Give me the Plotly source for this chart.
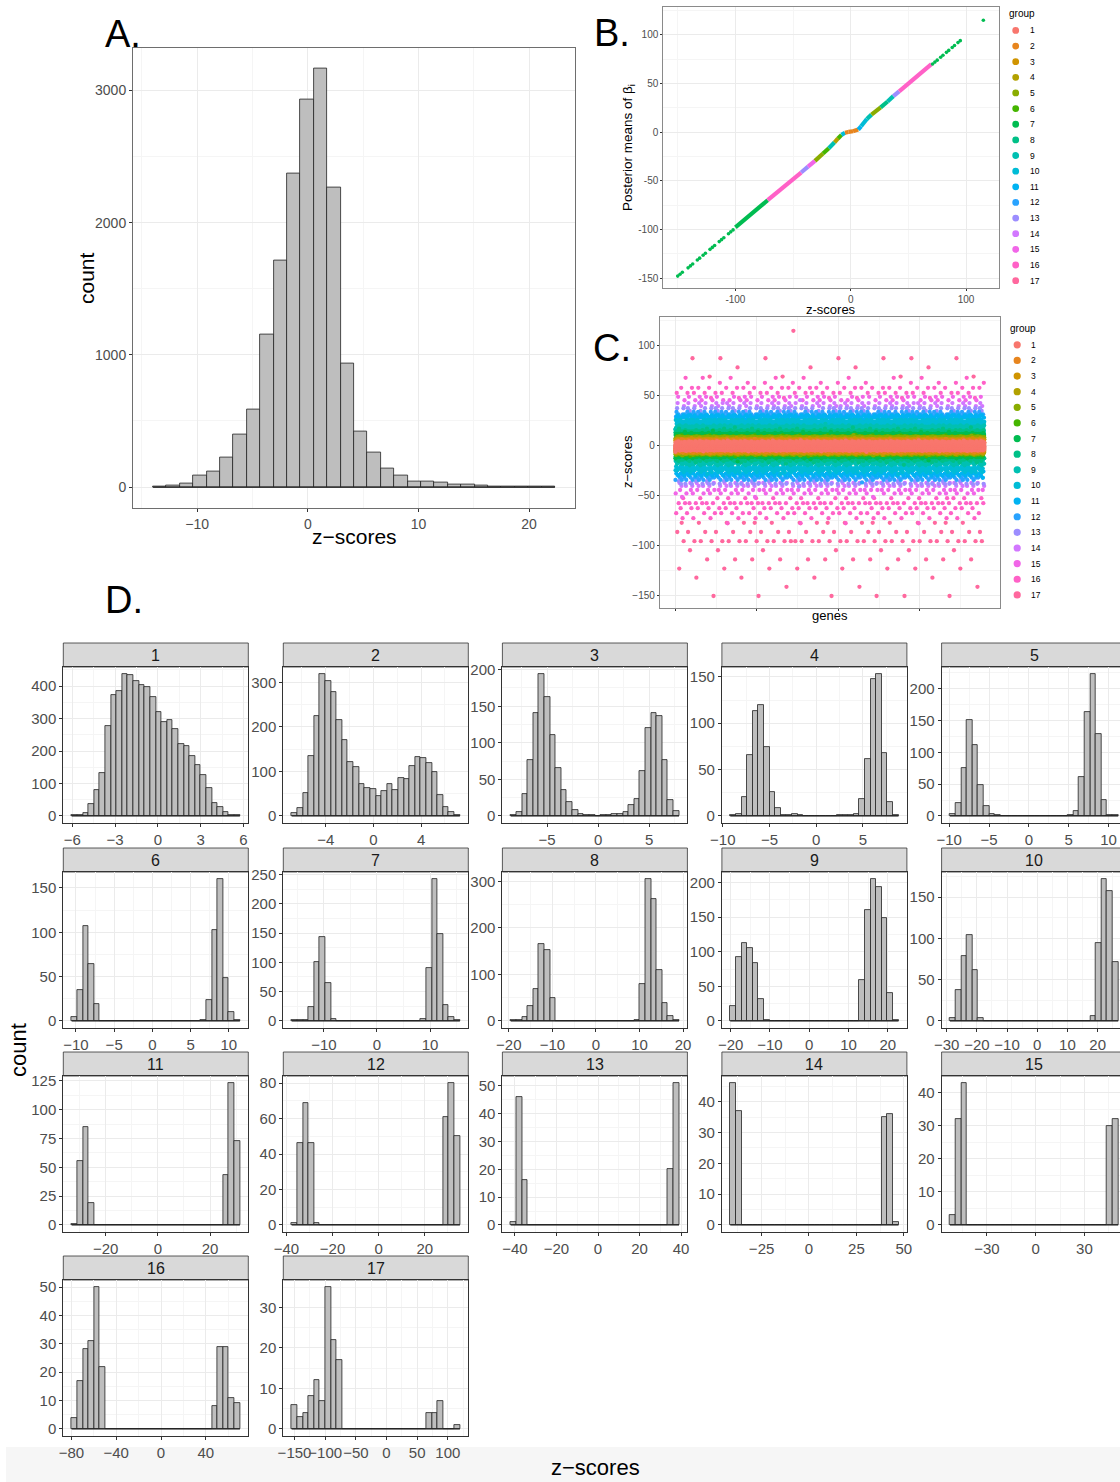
import math
import plotly.graph_objects as go

W, H = 1120, 1482
FONT = "Liberation Sans, Arial, sans-serif"

# ============================ DATA ============================
groups = list(range(1, 18))

# ---- Panel A : histogram of all z-scores (30 bins) ----
a_bin_start = -13.99
a_bin_width = 1.211
a_counts = [5, 13, 25, 88, 114, 227, 397, 586, 1157, 1711, 2375, 2931, 3166, 2269, 935,
            422, 258, 144, 88, 45, 45, 33, 23, 18, 10, 8, 5, 5, 4, 3]
a_x_ticks = [-10, 0, 10, 20]
a_y_ticks = [0, 1000, 2000, 3000]

# ---- Panel B : posterior means vs z-scores ----
# dense part: consecutive vertices, each segment coloured by the group of its first vertex
b_line_z = [-100, -72, -43, -37, -31, -24, -19, -14, -11, -8, -5, -2, 2, 6.5, 9, 14, 18, 26, 32, 37, 42, 70]
b_line_post = [-98, -70, -41.5, -35.5, -29.5, -22, -16.5, -10.5, -6.5, -2.8, -0.6, 0.2, 0.9, 2.6, 6, 13.5,
               18, 25.5, 31.5, 37, 42, 70]
b_line_group = [7, 16, 13, 15, 5, 6, 9, 4, 6, 10, 2, 2, 2, 11, 10, 9, 5, 8, 9, 13, 16]
# sparse points at the extremes
b_dot_z = [-150, -148, -146, -141, -139, -137, -133, -131, -128, -126, -122, -120, -118, -114, -112,
           -110, -106, -104, -102, 71, 73, 75, 78, 80, 83, 85, 88, 90, 93, 95, 115]
b_dot_post = [-148, -146, -144, -139.5, -137.5, -135.5, -131.5, -129.5, -126.5, -124.5, -120.5, -118.5,
              -116.5, -112.5, -110.5, -108.5, -104.5, -102.5, -100.5, 70, 72, 74, 77, 79, 82, 84, 87,
              89, 92, 94, 115]
b_dot_group = [7] * len(b_dot_z)
b_x_ticks = [-100, 0, 100]
b_y_ticks = [-150, -100, -50, 0, 50, 100]

# ---- Panel D : per-group histograms (30 bins each) ----
d_bin_start = [-6.04, -6.85, -8.56, -9.2, -9.9, -10.56, -16.08, -19.54, -20.1, -28.9,
               -33.0, -37.7, -41.96, -41.5, -52.7, -79.8, -154.57]
d_bin_width = [0.393, 0.47, 0.549, 0.6, 0.7035, 0.734, 1.057, 1.287, 1.428, 1.857,
               2.148, 2.43, 2.698, 2.957, 3.45, 5.01, 9.138]
counts_g1 = [2, 4, 10, 36, 80, 131, 276, 374, 384, 437, 434, 417, 402, 396, 367, 321, 290, 297, 268, 221,
             214, 186, 158, 125, 85, 39, 28, 13, 4, 2]
counts_g2 = [6, 17, 51, 134, 225, 319, 303, 279, 215, 170, 121, 109, 71, 63, 60, 45, 56, 71, 58, 86,
             83, 113, 132, 131, 119, 99, 48, 19, 9, 2]
counts_g3 = [1, 6, 30, 76, 141, 194, 163, 111, 65, 36, 19, 8, 2, 1, 1, 0, 1, 1, 2, 3,
             6, 15, 23, 62, 120, 141, 137, 77, 22, 7]
counts_g4 = [1, 2, 20, 66, 113, 120, 74, 26, 8, 1, 1, 2, 1, 0, 0, 0, 0, 0, 0, 1,
             1, 1, 2, 18, 61, 148, 153, 68, 15, 1]
counts_g5 = [3, 20, 76, 151, 111, 48, 15, 3, 1, 0, 0, 0, 0, 0, 0, 0, 0, 0, 0, 0,
             0, 1, 8, 61, 163, 223, 129, 25, 1, 1]
counts_g6 = [4, 35, 107, 64, 19, 0, 0, 0, 0, 0, 0, 0, 0, 0, 0, 0, 0, 0, 0, 0,
             0, 0, 0, 1, 24, 103, 160, 48, 10, 1]
counts_g7 = [1, 1, 1, 23, 100, 144, 65, 4, 0, 0, 0, 0, 0, 0, 0, 0, 0, 0, 0, 0,
             0, 0, 0, 4, 91, 242, 149, 27, 7, 1]
counts_g8 = [1, 1, 9, 31, 68, 166, 152, 50, 0, 0, 0, 0, 0, 0, 0, 0, 0, 0, 0, 0,
             0, 0, 2, 80, 305, 262, 109, 38, 11, 3]
counts_g9 = [22, 92, 112, 105, 83, 31, 1, 0, 0, 0, 0, 0, 0, 0, 0, 0, 0, 0, 0, 0,
             0, 0, 0, 59, 161, 205, 194, 149, 41, 1]
counts_g10 = [3, 38, 79, 104, 62, 4, 0, 0, 0, 0, 0, 0, 0, 0, 0, 0, 0, 0, 0, 0,
              0, 0, 0, 0, 0, 6, 94, 172, 158, 71]
counts_g11 = [1, 55, 85, 19, 0, 0, 0, 0, 0, 0, 0, 0, 0, 0, 0, 0, 0, 0, 0, 0,
              0, 0, 0, 0, 0, 0, 0, 43, 123, 73]
counts_g12 = [1, 46, 69, 46, 1, 0, 0, 0, 0, 0, 0, 0, 0, 0, 0, 0, 0, 0, 0, 0,
              0, 0, 0, 0, 0, 0, 0, 61, 80, 50]
counts_g13 = [1, 46, 16, 0, 0, 0, 0, 0, 0, 0, 0, 0, 0, 0, 0, 0, 0, 0, 0, 0,
              0, 0, 0, 0, 0, 0, 0, 0, 20, 51]
counts_g14 = [46, 37, 0, 0, 0, 0, 0, 0, 0, 0, 0, 0, 0, 0, 0, 0, 0, 0, 0, 0,
              0, 0, 0, 0, 0, 0, 0, 35, 36, 1]
counts_g15 = [3, 32, 43, 0, 0, 0, 0, 0, 0, 0, 0, 0, 0, 0, 0, 0, 0, 0, 0, 0,
              0, 0, 0, 0, 0, 0, 0, 0, 30, 32]
counts_g16 = [4, 17, 28, 31, 50, 22, 0, 0, 0, 0, 0, 0, 0, 0, 0, 0, 0, 0, 0, 0,
              0, 0, 0, 0, 0, 8, 29, 29, 11, 9]
counts_g17 = [6, 3, 4, 8, 12, 7, 35, 22, 17, 0, 0, 0, 0, 0, 0, 0, 0, 0, 0, 0,
              0, 0, 0, 0, 4, 4, 7, 0, 0, 1]
d_counts = [counts_g1, counts_g2, counts_g3, counts_g4, counts_g5, counts_g6, counts_g7, counts_g8,
            counts_g9, counts_g10, counts_g11, counts_g12, counts_g13, counts_g14, counts_g15,
            counts_g16, counts_g17]
d_x_dtick = [3, 4, 5, 5, 5, 5, 10, 10, 10, 10, 20, 20, 20, 25, 30, 40, 50]
d_y_dtick = [100, 100, 50, 50, 50, 50, 50, 100, 50, 50, 25, 20, 10, 10, 10, 10, 10]

c_gene_dtick = 5000
c_y_ticks = [-150, -100, -50, 0, 50, 100]


# ============================ HELPERS ============================
def hue_color(h, c=100.0, l=65.0):
    """ggplot2 default hue palette colour (polar CIE-Luv -> sRGB)."""
    hr = math.radians(h)
    U, V = c * math.cos(hr), c * math.sin(hr)
    Xn, Yn, Zn = 95.047, 100.0, 108.883
    Y = Yn * ((l + 16) / 116) ** 3
    t = Xn + Yn + Zn
    x, y = Xn / t, Yn / t
    uN = 2 * x / (6 * y - x + 1.5)
    vN = 4.5 * y / (6 * y - x + 1.5)
    u = U / (13 * l) + uN
    v = V / (13 * l) + vN
    X = 9.0 * Y * u / (4 * v)
    Z = -X / 3 - 5 * Y + 3 * Y / v
    r = (3.240479 * X - 1.537150 * Y - 0.498535 * Z) / Yn
    g = (-0.969256 * X + 1.875992 * Y + 0.041556 * Z) / Yn
    b = (0.055648 * X - 0.204043 * Y + 1.057311 * Z) / Yn

    def gt(cc):
        cc = 1.055 * cc ** (1 / 2.4) - 0.055 if cc > 0.00304 else 12.92 * cc
        return min(max(cc, 0.0), 1.0)
    return "#%02X%02X%02X" % tuple(int(round(255 * gt(cc))) for cc in (r, g, b))


GCOL = {g: hue_color(15 + (360 / 17) * (g - 1)) for g in groups}


def xd(x0, x1):
    return [max(0.0, x0 / W), min(1.0, x1 / W)]


def yd(y0, y1):
    return [max(0.0, 1 - y1 / H), min(1.0, 1 - y0 / H)]


def px(x):
    return x / W


def py(y):
    return 1 - y / H


fig = go.Figure()
layout = {}
annotations = []
shapes = []

GRID = "#EBEBEB"
MINOR = "#F5F5F5"
TICKC = "#4D4D4D"


def axis_style(dom, rng, dtick, font_size, border, show_labels=True, tickvals=None, ticktext=None,
               minor_dtick=None, anchor=None, ticklen=3):
    d = dict(domain=dom, range=rng, anchor=anchor, showgrid=True, gridcolor=GRID, gridwidth=1,
             zeroline=False, showline=True, mirror=True, linecolor=border, linewidth=1,
             ticks="outside", ticklen=ticklen, tickwidth=1, tickcolor="#333333",
             tickfont=dict(family=FONT, size=font_size, color=TICKC), tickangle=0,
             automargin=False, showticklabels=show_labels, fixedrange=True, layer="above traces")
    if tickvals is not None:
        d["tickmode"] = "array"
        d["tickvals"] = tickvals
        if ticktext is not None:
            d["ticktext"] = ticktext
    else:
        d["tick0"] = 0
        d["dtick"] = dtick
    if minor_dtick is not None:
        d["minor"] = dict(dtick=minor_dtick, tick0=0, showgrid=True, gridcolor=MINOR, gridwidth=0.7,
                          ticks="")
    return d


def ann(x, y, text, size, color="#000000", angle=0, xanchor="center", yanchor="middle"):
    annotations.append(dict(x=px(x), y=py(y), xref="paper", yref="paper", text=text, showarrow=False,
                            textangle=angle, xanchor=xanchor, yanchor=yanchor,
                            font=dict(family=FONT, size=size, color=color)))


def hist_traces(xref, yref, start, width, counts):
    centers = [start + width * (k + 0.5) for k in range(len(counts))]
    fig.add_trace(go.Bar(x=centers, y=counts, width=[width] * len(counts), xaxis=xref, yaxis=yref,
                         marker=dict(color="#BEBEBE", line=dict(color="#222222", width=0.8)),
                         showlegend=False, hoverinfo="skip"))
    fig.add_trace(go.Scatter(x=[start, start + width * len(counts)], y=[0, 0], mode="lines",
                             line=dict(color="#222222", width=1.2), xaxis=xref, yaxis=yref,
                             showlegend=False, hoverinfo="skip"))


def expand(lo, hi):
    s = hi - lo
    return [lo - 0.05 * s, hi + 0.05 * s]


# ============================ PANEL A ============================
a_rng_x = expand(a_bin_start, a_bin_start + a_bin_width * len(a_counts))
a_rng_y = expand(0, max(a_counts))
layout["xaxis"] = axis_style(xd(133, 575), a_rng_x, None, 14, "#6E6E6E", tickvals=a_x_ticks,
                             minor_dtick=5, anchor="y")
layout["yaxis"] = axis_style(yd(47.5, 508), a_rng_y, None, 14, "#6E6E6E", tickvals=a_y_ticks,
                             minor_dtick=500, anchor="x")
hist_traces("x", "y", a_bin_start, a_bin_width, a_counts)
ann(354, 536, "z\u2212scores", 21)
ann(86, 278, "count", 21, angle=-90)
ann(123, 34, "A.", 38)

# ============================ PANEL B ============================
layout["xaxis2"] = axis_style(xd(663.3, 998.8), [-162.5, 128.4], None, 10, "#8A8A8A",
                              tickvals=b_x_ticks, ticktext=["-100", "0", "100"], minor_dtick=50,
                              anchor="y2", ticklen=2)
layout["yaxis2"] = axis_style(yd(7.4, 287.8), [-160, 128.2], None, 10, "#8A8A8A",
                              tickvals=b_y_ticks, ticktext=[str(v) for v in b_y_ticks],
                              minor_dtick=25, anchor="x2", ticklen=2)
for i, g in enumerate(b_line_group):
    fig.add_trace(go.Scatter(x=[b_line_z[i], b_line_z[i + 1]], y=[b_line_post[i], b_line_post[i + 1]],
                             mode="lines", line=dict(color=GCOL[g], width=4.2), xaxis="x2", yaxis="y2",
                             showlegend=False, hoverinfo="skip"))
fig.add_trace(go.Scatter(x=b_dot_z, y=b_dot_post, mode="markers",
                         marker=dict(color=[GCOL[g] for g in b_dot_group], size=3.6),
                         xaxis="x2", yaxis="y2", showlegend=False, hoverinfo="skip"))
ann(831, 309, "z-scores", 13)
ann(628, 148, "Posterior means of \u03b2<sub>i</sub>", 13.5, angle=-90)
ann(612, 33, "B.", 38)

# ============================ PANEL C ============================
# every gene: its group and its z-score (bin value)
c_vals = []
for g, start, width, cnts in zip(groups, d_bin_start, d_bin_width, d_counts):
    for k, n in enumerate(cnts):
        c_vals.extend([(g, start + width * (k + 0.5))] * n)
N = len(c_vals)
step = int(round(N * 0.6180339887))
while math.gcd(step, N) != 1:
    step += 1
c_gene = [(i * step) % N + 1 for i in range(N)]

layout["xaxis3"] = axis_style(xd(659.9, 999.8), expand(1, N), c_gene_dtick, 10, "#8A8A8A",
                              show_labels=False, minor_dtick=c_gene_dtick / 2, anchor="y3", ticklen=2)
layout["yaxis3"] = axis_style(yd(316.8, 608), [-162, 129], None, 10, "#8A8A8A", tickvals=c_y_ticks,
                              minor_dtick=25, anchor="x3", ticklen=2)
for g in reversed(groups):
    xs = [c_gene[i] for i, (gg, v) in enumerate(c_vals) if gg == g]
    ys = [v for (gg, v) in c_vals if gg == g]
    fig.add_trace(go.Scatter(x=xs, y=ys, mode="markers", marker=dict(color=GCOL[g], size=4.3),
                             xaxis="x3", yaxis="y3", showlegend=False, hoverinfo="skip"))
ann(830, 616, "genes", 13)
ann(628, 462, "z\u2212scores", 13, angle=-90)
ann(612, 348, "C.", 38)


# ---- legends for B and C ----
def draw_legend(title_x, title_y, dot_x, first_y, spacing, label_x, r):
    ann(title_x, title_y, "group", 10, xanchor="left")
    for i, g in enumerate(groups):
        cy = first_y + spacing * i
        shapes.append(dict(type="circle", xref="paper", yref="paper", x0=px(dot_x - r), x1=px(dot_x + r),
                           y0=py(cy + r), y1=py(cy - r), fillcolor=GCOL[g], line=dict(width=0)))
        ann(label_x, cy, str(g), 8.5, xanchor="left")


draw_legend(1007, 14, 1015.7, 30.4, 15.64, 1027.5, 3.4)
draw_legend(1008, 328.6, 1017.2, 344.8, 15.63, 1028.5, 3.6)

# ============================ PANEL D ============================
col_left = [63.3, 283.3, 502.4, 721.9, 941.6]
panel_w = 185.0
strip_top = [643, 848, 1052, 1256]
strip_h = 24.0
panel_h = 156.0

for i, g in enumerate(groups):
    ax = 4 + i
    xref, yref = "x%d" % ax, "y%d" % ax
    col, row = i % 5, i // 5
    left = col_left[col]
    right = left + panel_w
    top = strip_top[row] + strip_h
    bottom = top + panel_h
    start, width, cnts = d_bin_start[i], d_bin_width[i], d_counts[i]
    rx = expand(start, start + width * len(cnts))
    if right > W:  # panel cut by the picture edge
        frac = (W - left) / panel_w
        rx = [rx[0], rx[0] + (rx[1] - rx[0]) * frac]
    ry = expand(0, max(cnts))
    layout["xaxis%d" % ax] = axis_style(xd(left, min(right, W)), rx, d_x_dtick[i], 15, "#333333",
                                        minor_dtick=d_x_dtick[i] / 2, anchor=yref)
    layout["yaxis%d" % ax] = axis_style(yd(top, bottom), ry, d_y_dtick[i], 15, "#333333",
                                        minor_dtick=d_y_dtick[i] / 2, anchor=xref)
    hist_traces(xref, yref, start, width, cnts)
    # strip
    shapes.append(dict(type="rect", xref="paper", yref="paper", x0=px(left), x1=px(min(right, W + 2)),
                       y0=py(top), y1=py(strip_top[row]), fillcolor="#D9D9D9",
                       line=dict(color="#333333", width=0.8), layer="below"))
    ann((left + right) / 2, strip_top[row] + strip_h / 2 + 0.5, str(g), 16, color="#1A1A1A")

# bottom light band of the screenshot
shapes.append(dict(type="rect", xref="paper", yref="paper", x0=px(6), x1=1, y0=0, y1=py(1447),
                   fillcolor="#F6F6F6", line=dict(width=0), layer="below"))

ann(18, 1050, "count", 22, angle=-90)
ann(595, 1467, "z\u2212scores", 22)
ann(124, 600, "D.", 38)

layout.update(dict(width=W, height=H, margin=dict(l=0, r=0, t=0, b=0, autoexpand=False),
                   paper_bgcolor="white", plot_bgcolor="white", showlegend=False, bargap=0,
                   barmode="overlay", annotations=annotations, shapes=shapes, font=dict(family=FONT)))
fig.update_layout(**layout)
fig.write_html("out.html")
